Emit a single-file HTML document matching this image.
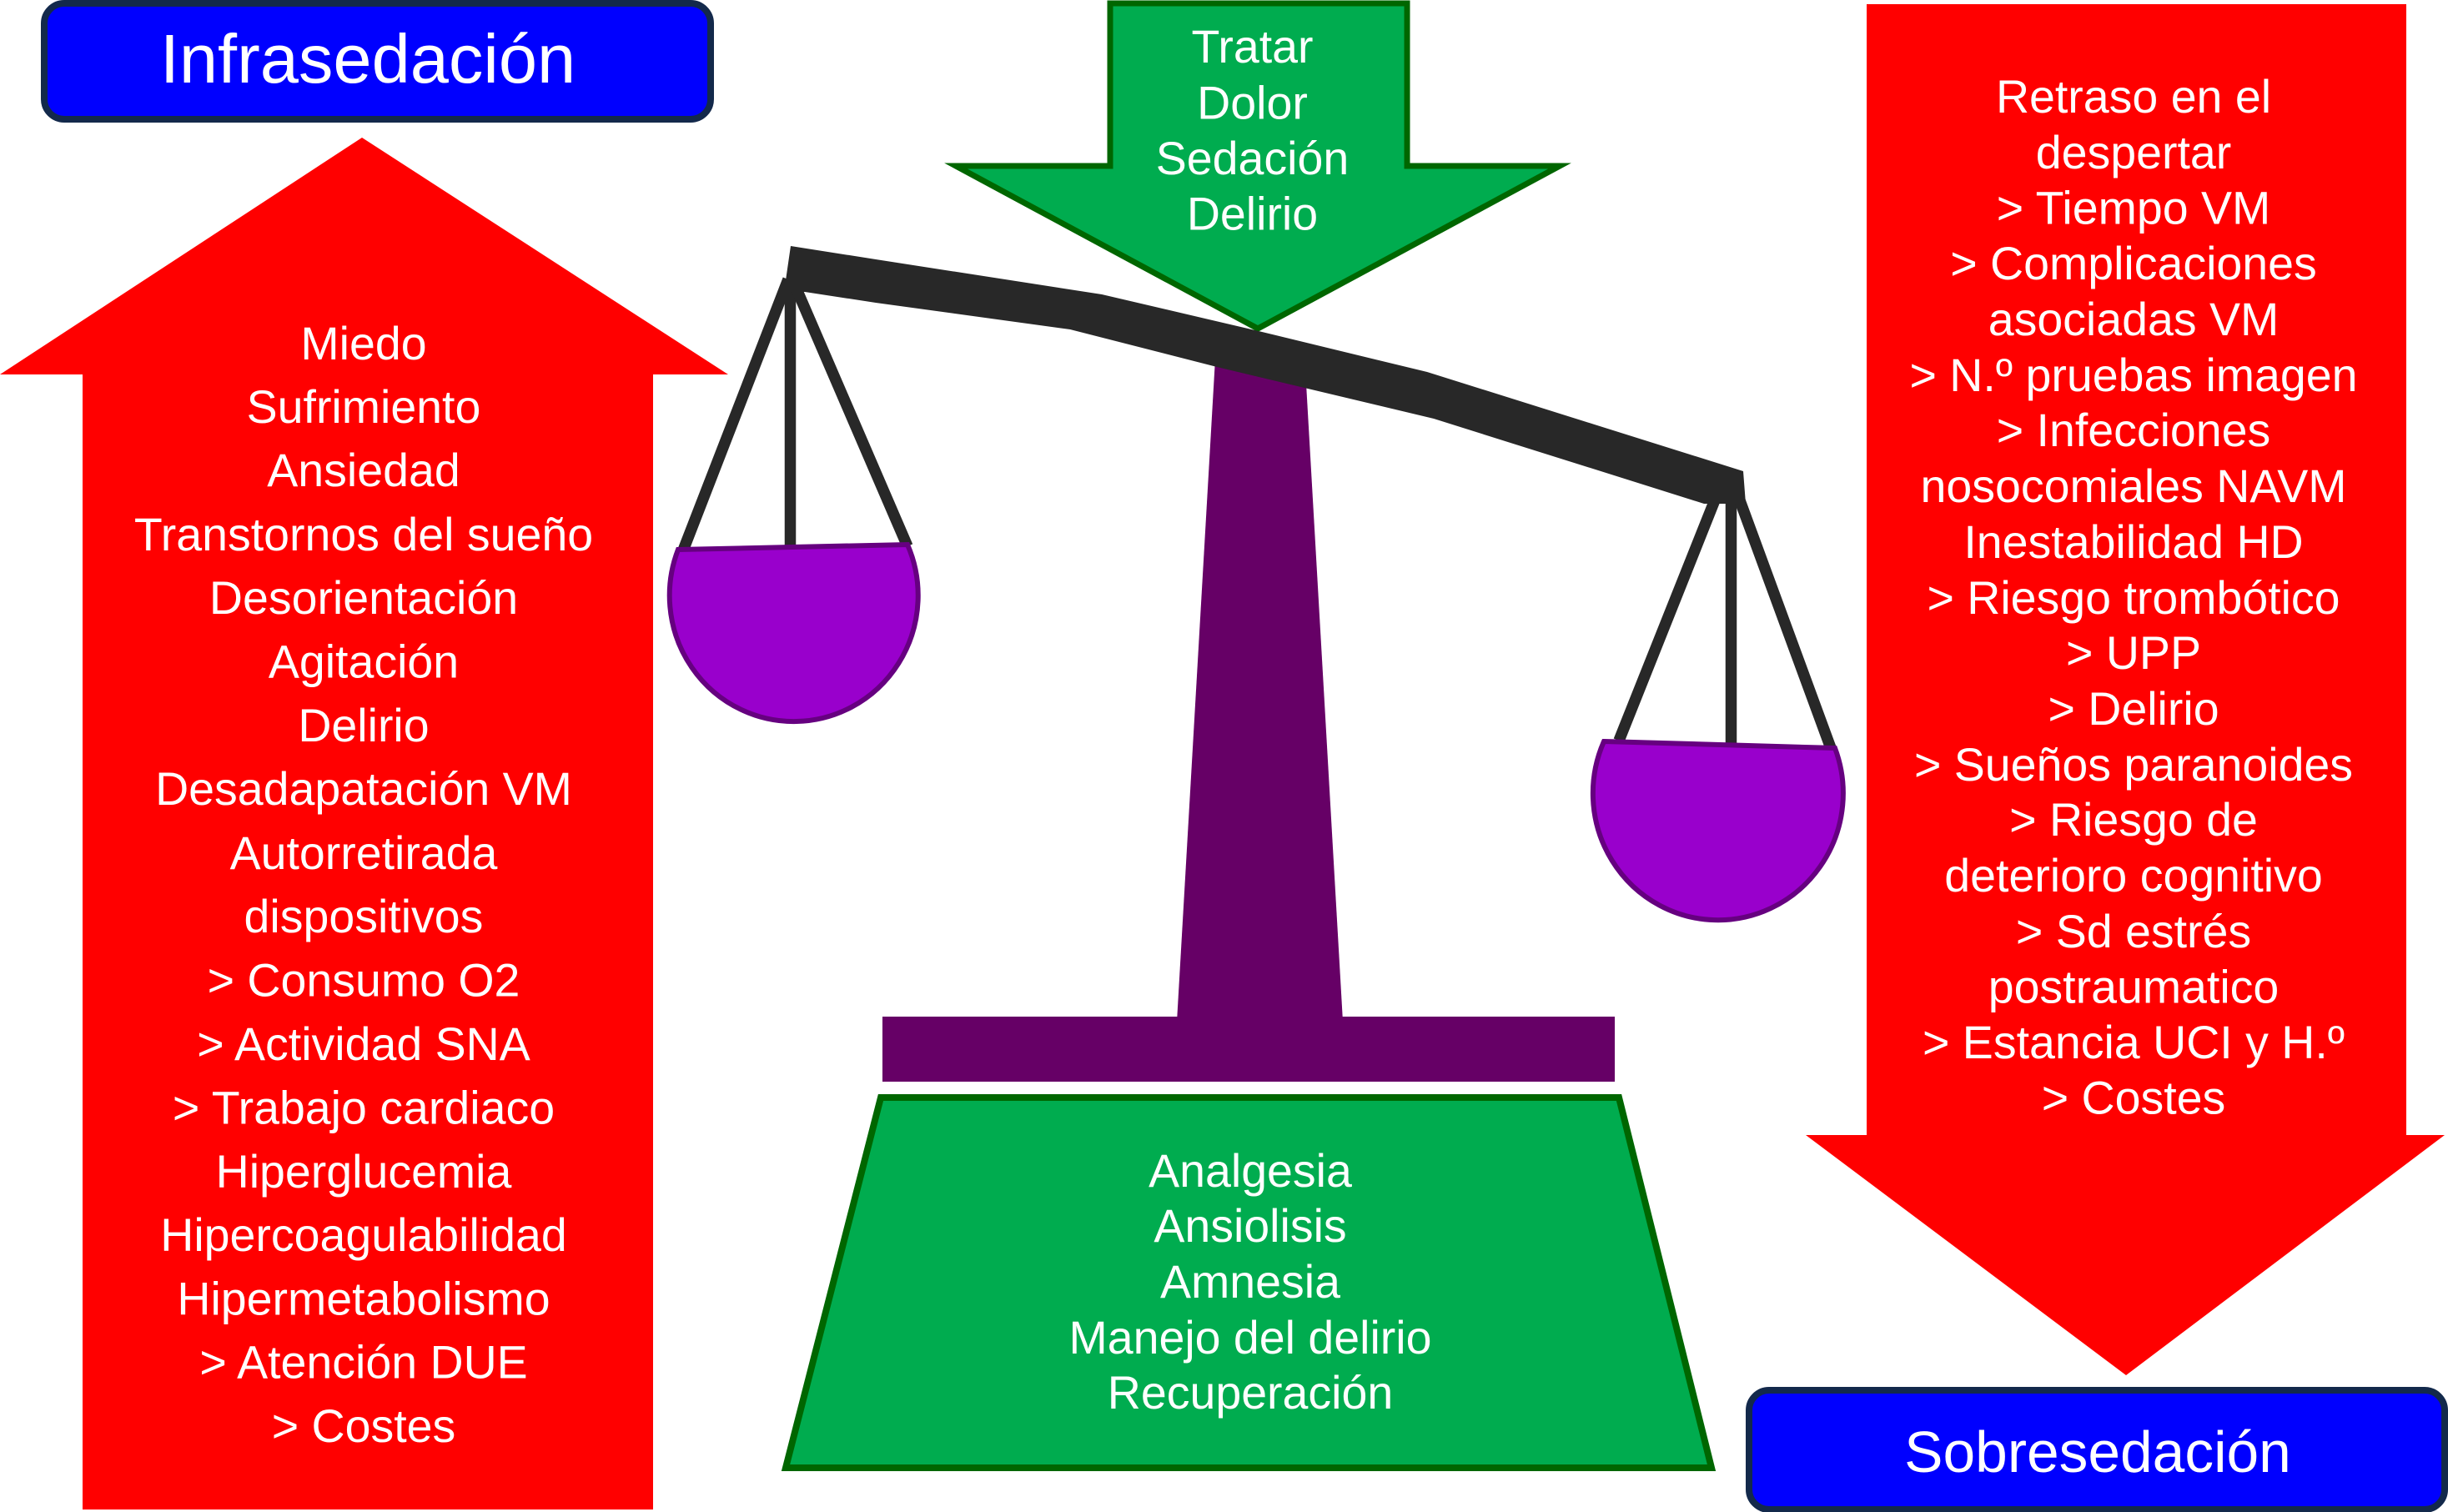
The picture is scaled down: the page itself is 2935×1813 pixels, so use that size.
<!DOCTYPE html>
<html lang="es">
<head>
<meta charset="utf-8">
<title>Infrasedación y sobresedación</title>
<style>
html,body{margin:0;padding:0;background:#fff;width:2935px;height:1813px;overflow:hidden}
svg{display:block}
text{font-family:"Liberation Sans",Arial,sans-serif;fill:#fff;text-anchor:middle}
.t text{font-size:55.5px}
</style>
</head>
<body>
<svg xmlns="http://www.w3.org/2000/svg" width="2935" height="1813" viewBox="0 0 2935 1813">
<rect width="2935" height="1813" fill="#fff"/>

<!-- Title boxes -->
<rect x="53" y="4" width="799" height="139" rx="24" ry="24" fill="#0000ff" stroke="#13294b" stroke-width="8"/>
<text x="441" y="99" font-size="83">Infrasedación</text>
<rect x="2097" y="1667" width="834" height="143" rx="24" ry="24" fill="#0000ff" stroke="#13294b" stroke-width="8"/>
<text x="2515" y="1765" font-size="69.5">Sobresedación</text>

<!-- Red arrows -->
<polygon fill="#ff0000" points="434,165 873,449 783,449 783,1810 99,1810 99,449 0,449"/>
<polygon fill="#ff0000" points="2238,5 2885,5 2885,1361 2931,1361 2549,1649 2165,1361 2238,1361"/>

<!-- Green arrow -->
<polygon fill="#00ac4f" stroke="#006600" stroke-width="7" stroke-miterlimit="10" points="1331,4 1687,4 1687,199 1870,199 1508,394 1146,199 1331,199"/>

<!-- Column and base -->
<polygon fill="#660066" points="1457,430 1566,460 1610,1225 1411,1225"/>
<rect x="1058" y="1219" width="878" height="78" fill="#660066"/>

<!-- Strings -->
<g stroke="#282828" stroke-width="13.5" fill="none">
<line x1="945" y1="335" x2="819" y2="660"/>
<line x1="947.5" y1="335" x2="947.5" y2="660"/>
<line x1="950" y1="335" x2="1088" y2="655"/>
<line x1="2059" y1="592" x2="1941" y2="888"/>
<line x1="2075.5" y1="592" x2="2075.5" y2="895"/>
<line x1="2083" y1="592" x2="2195" y2="897"/>
</g>

<!-- Beam -->
<polygon fill="#282828" points="948,295 1050,311 1321,353 1509,397 1711,446 2090,565 2093,604 2043,604 1719,502 1459,440 1283,395 1050,363 965,350 940,350"/>

<!-- Pans -->
<path d="M813,659 L1088,653 A149 151 0 1 1 813,659 Z" fill="#9900cc" stroke="#660080" stroke-width="6"/>
<path d="M1923,889 L2200,897 A150 152 0 1 1 1923,889 Z" fill="#9900cc" stroke="#660080" stroke-width="6"/>

<!-- Trapezoid -->
<polygon fill="#00ac4f" stroke="#006600" stroke-width="8" stroke-miterlimit="10" points="1056,1316 1941,1316 2052,1760 942,1760"/>

<!-- Left text -->
<g class="t">
<text x="436" y="431">Miedo</text>
<text x="436" y="507">Sufrimiento</text>
<text x="436" y="583">Ansiedad</text>
<text x="436" y="660">Transtornos del sueño</text>
<text x="436" y="736">Desorientación</text>
<text x="436" y="812.5">Agitación</text>
<text x="436" y="889">Delirio</text>
<text x="436" y="965">Desadapatación VM</text>
<text x="436" y="1042">Autorretirada</text>
<text x="436" y="1118">dispositivos</text>
<text x="436" y="1194.5">&gt; Consumo O2</text>
<text x="436" y="1271">&gt; Actividad SNA</text>
<text x="436" y="1347.5">&gt; Trabajo cardiaco</text>
<text x="436" y="1424">Hiperglucemia</text>
<text x="436" y="1500">Hipercoagulabilidad</text>
<text x="436" y="1576.5">Hipermetabolismo</text>
<text x="436" y="1652.5">&gt; Atención DUE</text>
<text x="436" y="1729">&gt; Costes</text>
</g>

<!-- Right text -->
<g class="t">
<text x="2558" y="135">Retraso en el</text>
<text x="2558" y="202">despertar</text>
<text x="2558" y="268.5">&gt; Tiempo VM</text>
<text x="2558" y="335">&gt; Complicaciones</text>
<text x="2558" y="402">asociadas VM</text>
<text x="2558" y="469">&gt; N.º pruebas imagen</text>
<text x="2558" y="535">&gt; Infecciones</text>
<text x="2558" y="602">nosocomiales NAVM</text>
<text x="2558" y="669">Inestabilidad HD</text>
<text x="2558" y="736">&gt; Riesgo trombótico</text>
<text x="2558" y="802">&gt; UPP</text>
<text x="2558" y="869">&gt; Delirio</text>
<text x="2558" y="936">&gt; Sueños paranoides</text>
<text x="2558" y="1002">&gt; Riesgo de</text>
<text x="2558" y="1069">deterioro cognitivo</text>
<text x="2558" y="1136">&gt; Sd estrés</text>
<text x="2558" y="1202.5">postraumatico</text>
<text x="2558" y="1269">&gt; Estancia UCI y H.º</text>
<text x="2558" y="1335.5">&gt; Costes</text>
</g>

<!-- Green arrow text -->
<g class="t">
<text x="1501.5" y="75">Tratar</text>
<text x="1501.5" y="142.5">Dolor</text>
<text x="1501.5" y="209">Sedación</text>
<text x="1501.5" y="275.5">Delirio</text>
</g>

<!-- Trapezoid text -->
<g class="t">
<text x="1499" y="1423">Analgesia</text>
<text x="1499" y="1489">Ansiolisis</text>
<text x="1499" y="1556">Amnesia</text>
<text x="1499" y="1623">Manejo del delirio</text>
<text x="1499" y="1689">Recuperación</text>
</g>
</svg>
</body>
</html>
